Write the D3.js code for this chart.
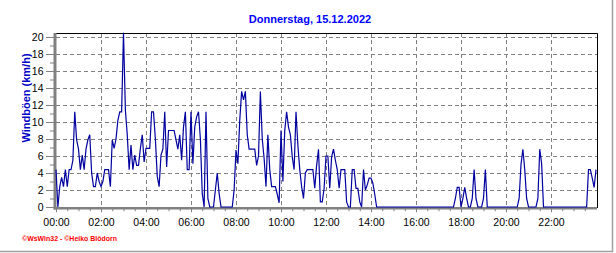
<!DOCTYPE html>
<html>
<head>
<meta charset="utf-8">
<script src="https://cdn.jsdelivr.net/npm/d3@7"></script>
<style>
  body { margin: 0; background: #fff; }
  svg { display: block; font-family: "Liberation Sans", Arial, sans-serif; }
  .grid line { stroke: #808080; stroke-width: 1; stroke-dasharray: 4,3; }
  .axis path, .axis line { stroke: #808080; }
  .axis text { fill: #000; font-size: 10.5px; }
</style>
</head>
<body>
<svg width="616" height="253"></svg>
<script>
const title = "Donnerstag, 15.12.2022";
const yLabel = "Windböen (km/h)";
const credit = "\u00a9WsWin32 - \u00a9Heiko Blödorn";

const stepMinutes = 5;
const xTickHours = [0, 2, 4, 6, 8, 10, 12, 14, 16, 18, 20, 22];
const xTickLabels = ["00:00", "02:00", "04:00", "06:00", "08:00", "10:00",
  "12:00", "14:00", "16:00", "18:00", "20:00", "22:00"];
const yTicks = [0, 2, 4, 6, 8, 10, 12, 14, 16, 18, 20];

// gusts in km/h, one value every 5 minutes, one row per hour
const gusts = [
  4.4, 0, 2.4, 3.5, 2.4, 4.4, 2.4, 4.4, 4.4, 5.5, 11.2, 7.9,
  6.8, 4.4, 6.1, 4.4, 6.8, 7.9, 8.5, 4, 2.4, 2.4, 4, 3,
  2.4, 3, 4.4, 4.4, 4.4, 2.4, 7.9, 6.9, 8, 10.2, 11.2, 11.2,
  20.5, 11.4, 8.5, 4.4, 7.3, 4.4, 6.1, 4.9, 4.9, 6.9, 8.5, 5.3,
  6.9, 6.9, 6.9, 11.2, 11.2, 8, 3.6, 2.4, 6.1, 6.8, 11.2, 4.7,
  9, 9, 9, 9, 7.9, 6.8, 8.5, 5.5, 9.4, 11.2, 4.4, 4.4,
  11.2, 5.1, 9.4, 10.6, 11.2, 8, 1.6, 0, 11.2, 1, 0, 0,
  0, 2, 4, 1.6, 0, 0, 0, 0, 0, 0, 0, 2,
  6.7, 5.1, 10.2, 13.6, 12.6, 13.6, 8.5, 6.8, 6.8, 6.8, 6.8, 4.9,
  6, 13.6, 8, 5.7, 2.4, 8.5, 4.4, 2.4, 2.4, 2.4, 1.5, 0.5,
  9, 3, 9, 11.2, 9.4, 8.5, 5.9, 4.4, 11.2, 7.3, 4.4, 2.4,
  1, 4, 4.4, 4.4, 4.4, 4.4, 2.2, 4.9, 6.8, 0.6, 0.6, 2.2,
  6, 6, 2.2, 5.9, 6.8, 5.5, 4.4, 2.2, 4.4, 4.4, 4.4, 0.6,
  0, 0, 4.4, 4.4, 2.2, 2.2, 0.6, 0, 4.4, 2, 2.6, 3.4,
  3.4, 2.8, 1.5, 0, 0, 0, 0, 0, 0, 0, 0, 0,
  0, 0, 0, 0, 0, 0, 0, 0, 0, 0, 0, 0,
  0, 0, 0, 0, 0, 0, 0, 0, 0, 0, 0, 0,
  0, 0, 0, 0, 0, 0, 0, 0, 0, 1, 2.3, 2.3,
  0, 1, 2.3, 1, 0, 0, 1, 4.4, 1, 0, 0, 0,
  1, 4.4, 0, 0, 0, 0, 0, 0, 0, 0, 0, 0,
  0, 0, 0, 0, 0, 0, 0, 1, 5, 6.8, 4.4, 1,
  0, 0, 0, 0, 0, 1, 6.8, 5.1, 0, 0, 0, 0,
  0, 0, 0, 0, 0, 0, 0, 0, 0, 0, 0, 0,
  0, 0, 0, 0, 0, 0, 0, 0, 4.4, 4.4, 3.4, 2.3,
  4.4
];

const svg = d3.select("svg");
const plotLeft = 56, plotRight = 596, plotTop = 33, plotBottom = 207;

const x = d3.scaleLinear().domain([0, 24]).range([plotLeft, plotRight]);
const y = d3.scaleLinear().domain([0, 20]).range([plotBottom, 37]);

// outer frame, grey on right and bottom
svg.append("path")
  .attr("d", "M0,251.5 H612.5 V0")
  .attr("fill", "none")
  .attr("stroke", "#a0a0a0")
  .attr("stroke-width", 1.5);

// title
svg.append("text")
  .attr("x", 310)
  .attr("y", 23)
  .attr("text-anchor", "middle")
  .attr("font-size", "11px")
  .attr("font-weight", "bold")
  .attr("fill", "#0000ff")
  .text(title);

// grid
const grid = svg.append("g").attr("class", "grid");
grid.selectAll(".h")
  .data(yTicks.filter(d => d > 0))
  .join("line")
  .attr("x1", plotLeft)
  .attr("x2", plotRight + 1)
  .attr("y1", d => Math.round(y(d)) + 0.5)
  .attr("y2", d => Math.round(y(d)) + 0.5);
grid.selectAll(".v")
  .data(xTickHours.filter(d => d > 0))
  .join("line")
  .attr("x1", d => Math.round(x(d)) + 0.5)
  .attr("x2", d => Math.round(x(d)) + 0.5)
  .attr("y1", plotTop)
  .attr("y2", plotBottom + 4);

// black frame top / right
svg.append("path")
  .attr("d", `M${plotLeft},${plotTop + 0.5} H${plotRight + 1.5} V${plotBottom + 1}`)
  .attr("fill", "none")
  .attr("stroke", "#000")
  .attr("stroke-width", 1);

// y axis: minor ticks every 1, major with labels every 2
const yAxisG = svg.append("g")
  .attr("class", "axis")
  .attr("transform", `translate(${plotLeft - 1},0)`);
yAxisG.append("g")
  .call(d3.axisLeft(y).tickValues(d3.range(0, 21)).tickSize(5).tickSizeOuter(0).tickFormat(""))
  .call(g => g.select(".domain").remove());
yAxisG.append("g")
  .call(d3.axisLeft(y).tickValues(yTicks).tickSize(9).tickSizeOuter(0).tickPadding(2.5))
  .call(g => g.select(".domain").attr("d", `M0,${plotTop}V${plotBottom + 2.5}`).attr("stroke-width", 3));

// x axis: minor ticks every 30 min, labels every 2 h
const xAxisG = svg.append("g")
  .attr("class", "axis")
  .attr("transform", `translate(0,${plotBottom + 1.2})`);
xAxisG.append("g")
  .call(d3.axisBottom(x).tickValues(d3.range(0, 24, 0.5)).tickSize(3).tickSizeOuter(0).tickFormat(""))
  .call(g => g.select(".domain").remove());
xAxisG.append("g")
  .call(d3.axisBottom(x).tickValues(xTickHours).tickSize(4).tickSizeOuter(0).tickPadding(6)
    .tickFormat((d, i) => xTickLabels[i]))
  .call(g => g.select(".domain").attr("d", `M${plotLeft - 2.5},0H${plotRight + 1}`).attr("stroke-width", 2.5));

// y label
svg.append("text")
  .attr("transform", "translate(30,98) rotate(-90)")
  .attr("text-anchor", "middle")
  .attr("font-size", "11px")
  .attr("font-weight", "bold")
  .attr("fill", "#0000c8")
  .text(yLabel);

// data line
const line = d3.line()
  .x((d, i) => x(i * stepMinutes / 60))
  .y(d => y(d));

svg.append("path")
  .datum(gusts)
  .attr("d", line)
  .attr("fill", "none")
  .attr("stroke", "#0000a0")
  .attr("stroke-width", 1.2);

// credits
svg.append("text")
  .attr("x", 22)
  .attr("y", 241)
  .attr("font-size", "7px")
  .attr("font-weight", "bold")
  .attr("fill", "#ff0000")
  .attr("textLength", 95)
  .attr("lengthAdjust", "spacingAndGlyphs")
  .text(credit);
</script>
</body>
</html>
